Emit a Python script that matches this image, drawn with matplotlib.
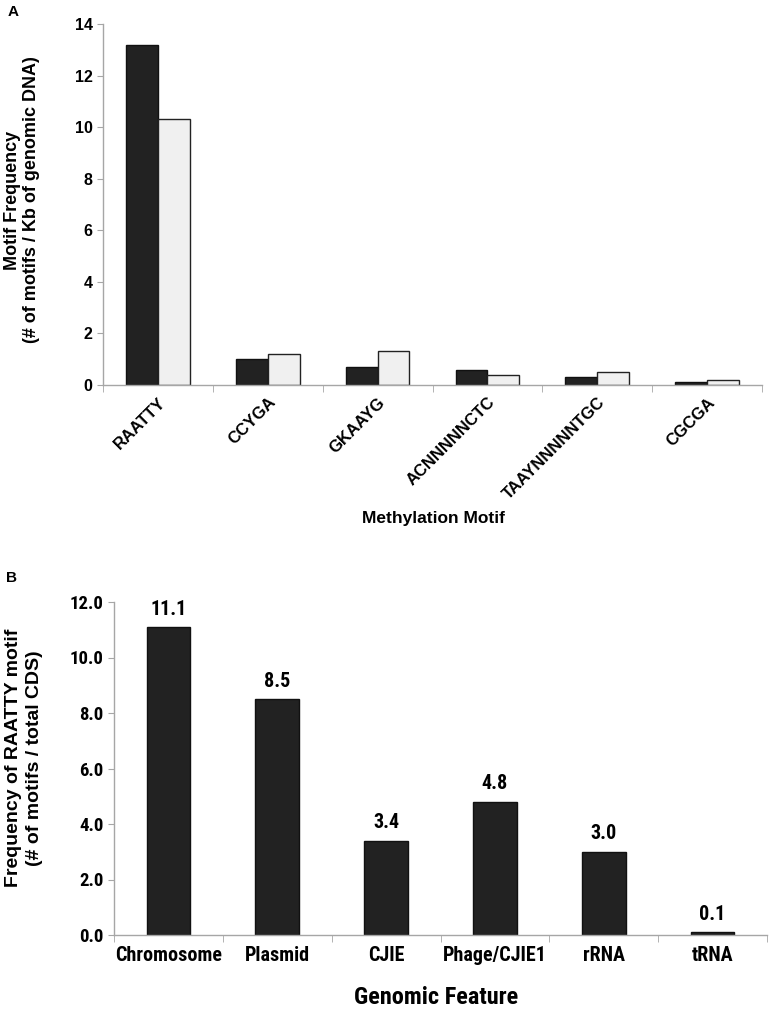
import matplotlib
matplotlib.use("Agg")
import matplotlib.pyplot as plt
from matplotlib import font_manager
import numpy as np

# Panel A data
motifs = ["RAATTY", "CCYGA", "GKAAYG", "ACNNNNNCTC", "TAAYNNNNNTGC", "CGCGA"]
series_dark = [13.2, 1.0, 0.7, 0.6, 0.3, 0.1]
series_light = [10.3, 1.2, 1.3, 0.4, 0.5, 0.2]

# Panel B data
features = ["Chromosome", "Plasmid", "CJIE", "Phage/CJIE1", "rRNA", "tRNA"]
raatty_freq = [11.1, 8.5, 3.4, 4.8, 3.0, 0.1]

W, H = 769, 1010
fig = plt.figure(figsize=(W / 100, H / 100), dpi=100)

ARIAL = ["Liberation Sans", "DejaVu Sans"]

# pick a condensed face if one exists (panel B uses a narrow bold font)
narrow = None
for name in ["Liberation Sans Narrow", "Roboto Condensed", "DejaVu Sans Condensed",
             "Open Sans Condensed", "Arial Narrow"]:
    try:
        font_manager.findfont(font_manager.FontProperties(family=name), fallback_to_default=False)
        narrow = name
        break
    except Exception:
        pass
NARROW = [narrow, "Liberation Sans"] if narrow else ["Liberation Sans"]
nscale = 1.0 if narrow else 0.88

spine_col = "#a6a6a6"


def px_axes(left, top, right, bottom):
    return fig.add_axes([left / W, 1 - bottom / H, (right - left) / W, (bottom - top) / H])


def style_axes(ax, n):
    for s in ["top", "right"]:
        ax.spines[s].set_visible(False)
    for s in ["left", "bottom"]:
        ax.spines[s].set_color(spine_col)
        ax.spines[s].set_linewidth(1)
    ax.set_xlim(-0.5, n - 0.5)
    ax.set_xticks(np.arange(n))
    ax.set_xticks(np.arange(n + 1) - 0.5, minor=True)
    ax.tick_params(axis="x", which="major", length=0)
    ax.tick_params(axis="x", which="minor", length=5, color=spine_col, direction="out")
    ax.tick_params(axis="y", length=4, color=spine_col, direction="out")


# ---- Panel A ----
axA = px_axes(103, 24, 762, 385)
x = np.arange(len(motifs))
bw = 0.29
axA.bar(x - bw / 2, series_dark, bw, color="#222222", edgecolor="#111111", linewidth=1)
axA.bar(x + bw / 2, series_light, bw, color="#f0f0f0", edgecolor="#222222", linewidth=1)
style_axes(axA, len(motifs))
axA.set_ylim(0, 14)
axA.set_yticks(range(0, 15, 2))
axA.set_yticklabels([str(v) for v in range(0, 15, 2)], family=ARIAL, fontweight="bold", fontsize=11.5)
axA.set_xticklabels(motifs, rotation=45, ha="right", rotation_mode="anchor",
                    family=ARIAL, fontweight="bold", fontsize=12)
axA.tick_params(axis="x", which="major", pad=7)

fig.text(8 / W, 1 - 12 / H, "A", family=ARIAL, fontweight="bold", fontsize=11, va="center")
fig.text(22 / W, 1 - 200 / H, "Motif Frequency\n(# of motifs / Kb of genomic DNA)",
         rotation=90, ha="center", va="center", multialignment="center",
         family=ARIAL, fontweight="bold", fontsize=13, linespacing=1.2)
fig.text(433 / W, 1 - 518 / H, "Methylation Motif", ha="center", va="center",
         family=ARIAL, fontweight="bold", fontsize=12.5)

# ---- Panel B ----
axB = px_axes(114, 602, 767, 935)
xb = np.arange(len(features))
axB.bar(xb, raatty_freq, 0.40, color="#222222", edgecolor="#111111", linewidth=1)
style_axes(axB, len(features))
axB.set_ylim(0, 12)
axB.set_yticks(np.arange(0, 12.1, 2))
axB.set_yticklabels([f"{v:.1f}" for v in np.arange(0, 12.1, 2)], family=NARROW,
                    fontweight="bold", fontsize=13.5 * nscale)
axB.set_xticklabels(features, family=NARROW, fontweight="bold", fontsize=14.5 * nscale)
axB.tick_params(axis="x", which="major", pad=8)
for xi, v in zip(xb, raatty_freq):
    axB.annotate(f"{v:.1f}", (xi, v), xytext=(0, 6), textcoords="offset points",
                 ha="center", va="bottom", family=NARROW, fontweight="bold", fontsize=14.5 * nscale)

fig.text(6 / W, 1 - 578 / H, "B", family=ARIAL, fontweight="bold", fontsize=11, va="center")
fig.text(24 / W, 1 - 758 / H, "Frequency of RAATTY motif\n(# of motifs / total CDS)",
         rotation=90, ha="center", va="center", multialignment="center",
         family=ARIAL, fontweight="bold", fontsize=14, linespacing=1.3)
fig.text(436 / W, 1 - 998 / H, "Genomic Feature", ha="center", va="center",
         family=NARROW, fontweight="bold", fontsize=17.5 * nscale)

fig.savefig("out.png", dpi=100)
